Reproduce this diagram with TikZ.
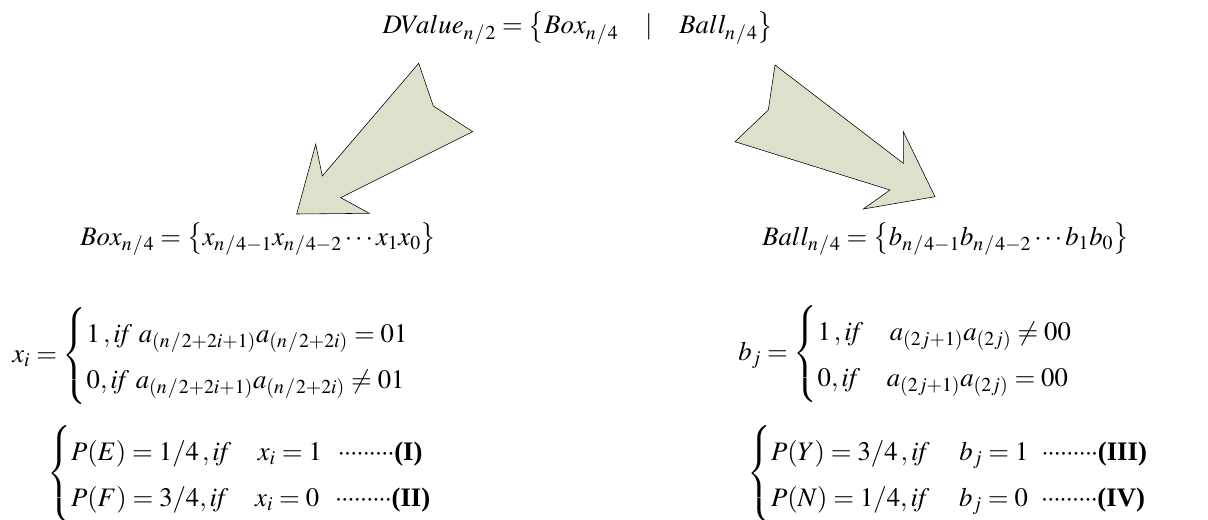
\documentclass[tikz,border=0pt]{standalone}
\usepackage{mathptmx}
\usepackage{fontspec}
\setmainfont{Liberation Serif}
\usetikzlibrary{positioning}
\definecolor{arrowfill}{RGB}{221,224,203}
\newcommand{\hs}{\mkern1mu/\mkern1mu}
\newcommand{\dotrow}{\hbox to 2.1em{\xleaders\hbox to .233em{\hss$\cdotp$\hss}\hfill}}

\begin{document}
\begin{tikzpicture}[
    x=0.025cm,y=-0.025cm,
    every node/.style={inner sep=0pt,font=\fontsize{19}{22}\selectfont},
    eqn/.style={anchor=base west},
    cases/.style={anchor=west},
    bigarrow/.style={draw=black,fill=arrowfill,line join=miter,thin}
]
    \useasboundingbox (0,0) rectangle (1208,519);
    \renewcommand{\arraystretch}{1.48}
    \thickmuskip=4mu
    % top line
    \node[anchor=base] (dv) at (578,34) {$DValue_{n\hs2} = \bigl\{Box_{n\hs4} \quad | \quad Ball_{n\hs4}\bigr\}$};
    % block arrows
    \draw[bigarrow] (418.7,63.3) -- (433.3,106) -- (472.7,131.7) -- (340.7,197.7)
        -- (369.3,213.3) -- (296.7,214) -- (315.7,144.3) -- (322.3,176) -- cycle;
    \draw[bigarrow] (775,65) -- (768.3,110) -- (735,141.7) -- (890,190)
        -- (863.3,209) -- (935,196.7) -- (903.3,131.7) -- (903.3,163.3) -- cycle;
    % sets
    \node[eqn] (box) at (80,245) {$Box_{n\hs4} = \bigl\{x_{n\hs4-1}x_{n\hs4-2}\cdots x_1x_0\bigr\}$};
    \node[eqn] (ball) at (762,245) {$Ball_{n\hs4} = \bigl\{b_{n\hs4-1}b_{n\hs4-2}\cdots b_1b_0\bigr\}$};
    % definitions
    \node[cases] (xdef) at (12,356) {$x_i = \left\{\begin{array}{@{}l@{}}
        1\,,\mathit{if}\ a_{(n\hs2+2i+1)}a_{(n\hs2+2i)} = 01\\
        0,\mathit{if}\ a_{(n\hs2+2i+1)}a_{(n\hs2+2i)} \neq 01
        \end{array}\right.$};
    \node[cases] (bdef) at (738,354) {$b_j = \left\{\begin{array}{@{}l@{}}
        1\,,\mathit{if}\quad a_{(2j+1)}a_{(2j)} \neq 00\\
        0,\mathit{if}\quad a_{(2j+1)}a_{(2j)} = 00
        \end{array}\right.$};
    % probabilities
    \node[cases] (pl) at (47,474) {$\left\{\begin{array}{@{}l@{}}
        P(E) = 1/4\,,\mathit{if}\quad x_i = 1\enspace\,\dotrow\textbf{(I)}\\
        P(F) = 3/4,\mathit{if}\quad x_i = 0\enspace\,\dotrow\textbf{(II)}
        \end{array}\right.$};
    \node[cases] (pr) at (747,474) {$\left\{\begin{array}{@{}l@{}}
        P(Y) = 3/4\,,\mathit{if}\quad\, b_j = 1\enspace\dotrow\textbf{(III)}\\
        P(N) = 1/4,\mathit{if}\quad\, b_j = 0\enspace\dotrow\textbf{(IV)}
        \end{array}\right.$};
\end{tikzpicture}
\end{document}
